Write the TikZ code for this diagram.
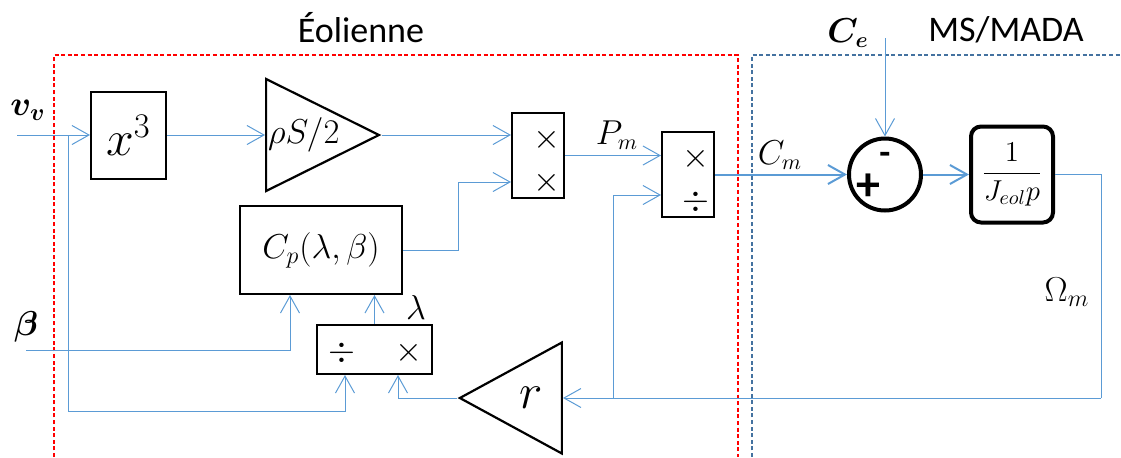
\documentclass[tikz,border=0pt]{standalone}
\usepackage[no-math]{fontspec}
\setmainfont{Carlito}
\usepackage{amsmath,bm}
\usetikzlibrary{arrows.meta,shapes.geometric}
\definecolor{lblue}{RGB}{91,155,213}
\definecolor{dblue}{RGB}{68,114,160}
\newcommand{\fs}[1]{\fontsize{#1}{#1}\selectfont}
\begin{document}
\begin{tikzpicture}[x=0.5pt,y=-0.5pt,
  blk/.style={rectangle, draw, line width=1pt, inner sep=0pt},
  gain/.style={isosceles triangle, isosceles triangle stretches, draw, line width=1.1pt, inner sep=0pt},
  sig/.style={draw=lblue, line width=0.5pt, -{Straight Barb[length=8.5pt,width=9.5pt]}},
  sigb/.style={sig, line width=1pt},
  wire/.style={draw=lblue, line width=0.5pt},
  zone/.style={line width=0.6pt, dash pattern=on 2pt off 1.3pt}]
  \useasboundingbox (0,0) rectangle (1121,457);
  % \node (t0) at (560,230) {};

  \draw[zone, red] (54,457) |- (738,55) -- (738,457);
  \draw[zone, dblue] (752,457) |- (1121,55);

  \node[font=\fs{18}] (t1) at (361,28) {Éolienne};
  \node[font=\fs{18}] (t2) at (1006,30) {MS/MADA};

  \node[blk, minimum width=37.5pt, minimum height=43.5pt, font=\fs{24}] (xc) at (128.5,135) {$x^3$};
  \node[gain, minimum width=56pt, minimum height=51pt, font=\fs{16}, anchor=lower side] (g) at (265,135) {$\rho S/2$};
  \node[blk, minimum width=26pt, minimum height=42.5pt] (m1) at (538,155.5) {};
  \node[blk, minimum width=26pt, minimum height=42.5pt] (m2) at (688,174.5) {};
  \node[circle, draw, line width=2pt, minimum size=36pt, inner sep=0pt] (s) at (885,174.5) {};
  \node[blk, line width=2pt, rounded corners=5pt, minimum width=41pt, minimum height=48pt, font=\fs{14.5}] (J) at (1012,174.5) {$\displaystyle\frac{1}{J_{eol}p}$};
  \node[blk, minimum width=81pt, minimum height=44pt, font=\fs{17}] (cp) at (321,250) {$C_p(\lambda,\beta)$};
  \node[blk, minimum width=57.5pt, minimum height=24.5pt] (d) at (374.5,349.5) {};
  \node[gain, shape border rotate=180, minimum width=55.5pt, minimum height=51pt, font=\fs{24}, anchor=apex] (r) at (457,398) {$r$};

  \node[font=\fs{16}] (o1) at (547,140) {$\times$};
  \node[font=\fs{16}] (o2) at (547,183) {$\times$};
  \node[font=\fs{16}] (o3) at (696,159) {$\times$};
  \node[font=\fs{16}] (o4) at (696,202) {$\div$};
  \node[font=\fs{16}] (o5) at (342,353) {$\div$};
  \node[font=\fs{16}] (o6) at (409,353) {$\times$};
  \node[font=\bfseries\fs{18}] (o7) at (885,158) {-};
  \node[font=\bfseries\fs{24}] (o8) at (868,187) {+};

  \node[font=\fs{18}] (vv) at (28,110) {$\bm{v}_{\bm{v}}$};
  \node[font=\fs{16}] (bt) at (26,327) {$\bm{\beta}$};
  \node[font=\fs{16}] (ce) at (848,33) {$\bm{C}_{\bm{e}}$};
  \node[font=\fs{16}] (pm) at (617,135) {$P_m$};
  \node[font=\fs{16}] (cm) at (780,155) {$C_m$};
  \node[font=\fs{16}] (lb) at (416,307) {$\lambda$};
  \node[font=\fs{17}] (om) at (1067,292) {$\Omega_m$};

  \coordinate (vin) at (17,135);
  \coordinate (b1) at (68,135);
  \coordinate (bin) at (26,350);
  \coordinate (cin) at (885,38);
  \coordinate (c2) at (1101,398);
  \coordinate (b2) at (613,398);

    \draw[sig] (vin) -- (xc);
    \draw[sig] (b1) |- ([shift={(-29.5,36)}]d.south) -- ([shift={(-29.5,0)}]d.south);
    \draw[sig] (xc) -- (g.lower side);
    \draw[sig] (g.apex) -- (g.apex -| m1.west);
    \draw[sig] (m1.east) -- (m1.east -| m2.west);
    \draw[sigb] (m2) -- (s);
    \draw[sig] (cin) -- (s);
    \draw[sigb] (s) -- (J);
    \draw[wire] (J) -| (c2);
    \draw[sig] (c2) -- (r.lower side);
    \draw[sig] (b2) |- ([shift={(0,20.5)}]m2.west);
    \draw[sig] (r.apex) -| ([shift={(23.5,0)}]d.south);
    \draw[sig] (d) -- (d.north |- cp.south);
    \draw[sig] (cp.east) -- ++(55,0) |- ([shift={(0,26.5)}]m1.west);
    \draw[sig] (bin) -| ([shift={(-31,0)}]cp.south);

\end{tikzpicture}
\end{document}
